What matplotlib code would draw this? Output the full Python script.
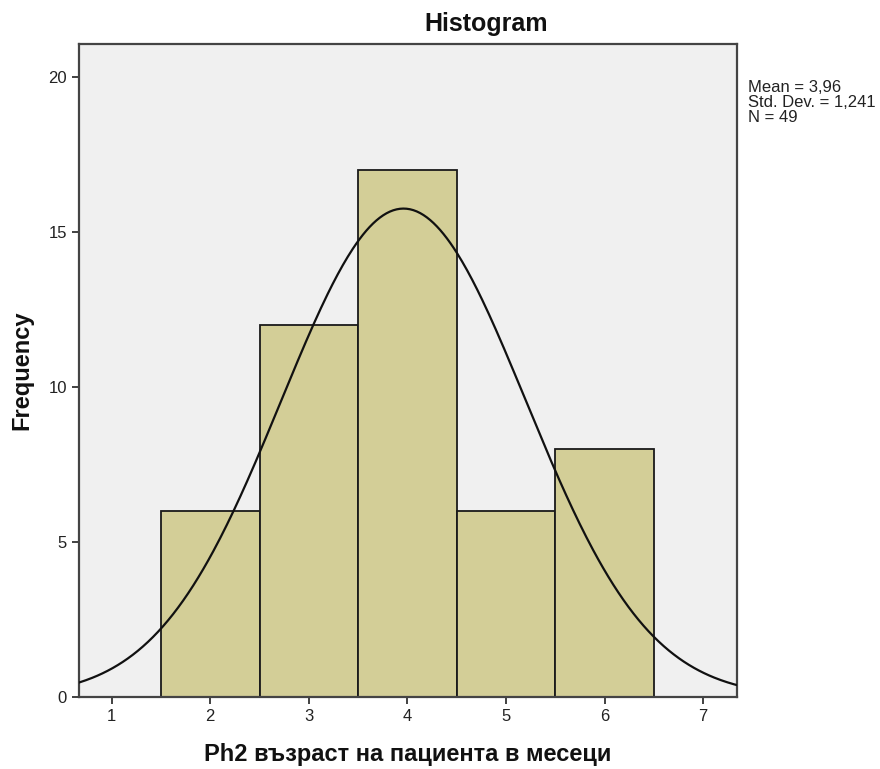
import numpy as np
import matplotlib
matplotlib.use("Agg")
import matplotlib.pyplot as plt

# binned counts, 1-wide bins centred on integers
bin_centers = [2, 3, 4, 5, 6]
counts = [6, 12, 17, 6, 8]
mean_val = 3.96
std_val = 1.241
n_obs = 49
x_ticks = [1, 2, 3, 4, 5, 6, 7]
y_ticks = [0, 5, 10, 15, 20]

plt.rcParams["font.family"] = ["Liberation Sans", "DejaVu Sans"]

fig = plt.figure(figsize=(8.8, 7.69), dpi=100, facecolor="white")
ax = fig.add_axes([0.0894, 0.0936, 0.7477, 0.8492])
ax.set_facecolor("#f0f0f0")

ax.bar(bin_centers, counts, width=1.0, color="#d3ce97", edgecolor="#1a1a1a",
       linewidth=1.3, zorder=2)

# normal curve scaled to counts (bin width 1)
xs = np.linspace(0.6, 7.4, 400)
ys = n_obs * 1.0 / (std_val * np.sqrt(2 * np.pi)) * np.exp(-0.5 * ((xs - mean_val) / std_val) ** 2)
ax.plot(xs, ys, color="#111111", lw=1.6, zorder=3)

ax.set_xlim(0.665, 7.339)
ax.set_ylim(0, 21.06)
ax.set_xticks(x_ticks)
ax.set_yticks(y_ticks)
ax.tick_params(direction="out", length=5, width=1.3, colors="#333333",
               labelsize=12, labelcolor="#222222")
for s in ax.spines.values():
    s.set_color("#444444")
    s.set_linewidth(1.6)

fig.text(486 / 880, 1 - 24 / 769, "Histogram", ha="center", va="center",
         fontsize=18, fontweight="bold", color="#111111")
fig.text(408 / 880, 1 - 755 / 769, "Ph2 възраст на пациента в месеци",
         ha="center", va="center", fontsize=17, fontweight="bold", color="#111111")
fig.text(22 / 880, 1 - 370 / 769, "Frequency", ha="center", va="center",
         rotation=90, fontsize=17, fontweight="bold", color="#111111")

stats = "Mean = 3,96\nStd. Dev. = 1,241\nN = 49"
fig.text(748 / 880, 1 - 80 / 769, stats, ha="left", va="top", fontsize=12,
         color="#222222", linespacing=1.02)

fig.savefig("out.png", dpi=100, facecolor="white")
